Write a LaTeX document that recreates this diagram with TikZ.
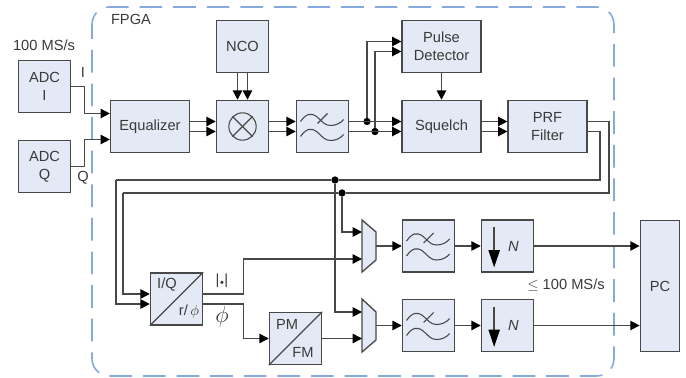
\documentclass[tikz,border=0pt]{standalone}
\usepackage{amsmath}
\usepackage{amssymb}
\usepackage{xcolor}
\usepackage{fontspec}
\setmainfont{Liberation Sans}
\usepackage{tikz}
\usetikzlibrary{arrows.meta}

\definecolor{boxblue}{RGB}{227,234,245}
\definecolor{edgegray}{RGB}{72,72,72}
\definecolor{textgray}{RGB}{58,58,58}
\definecolor{fpgablue}{RGB}{135,170,222}

\def\wo{3.75pt}

\tikzset{
    block/.style={draw=edgegray, fill=boxblue, line width=1.1pt, inner sep=0pt, align=center, minimum width=39pt, minimum height=39pt},
    wideblock/.style={block, minimum width=59pt},
    muxshape/.style={draw=edgegray, fill=boxblue, line width=1pt},
    wire/.style={draw=edgegray, line width=1.1pt},
    sig/.style={wire, -{Triangle[length=7pt,width=7pt,color=black]}},
    dot/.style={circle, fill=black, inner sep=0pt, minimum size=5.5pt},
    lbl/.style={text=textgray, inner sep=0pt},
    symline/.style={draw=edgegray, line width=0.8pt}
}

\begin{document}
\begin{tikzpicture}[x=0.75pt, y=-0.75pt, nodes={font=\fontsize{11pt}{13.5pt}\selectfont, text=textgray}]
    \useasboundingbox (0,0) rectangle (686,378);

    \draw[draw=fpgablue, line width=1.2pt, dash pattern=on 17pt off 8.2pt, dash phase=6pt, rounded corners=13pt] (92,7) rectangle (614,376);

    \node[block] (adci) at (44.5,86.5) {ADC\\I};
    \node[block] (adcq) at (44.5,166.5) {ADC\\Q};
    \node[wideblock] (eq) at (150,126.5) {Equalizer};
    \node[block] (nco) at (242.5,46.5) {NCO};
    \node[block] (mix) at (242.5,126.5) {};
    \node[block] (lpfa) at (322.5,126.5) {};
    \node[wideblock] (pd) at (441.5,46.5) {Pulse\\Detector};
    \node[wideblock] (sq) at (441.5,126.5) {Squelch};
    \node[wideblock] (prf) at (547.5,126.5) {PRF\\Filter};
    \node[block] (iq) at (176.5,299) {};
    \node[block] (pm) at (295.5,338.5) {};
    \node[block] (lpfb) at (428.5,246) {};
    \node[block] (lpfc) at (428.5,325.5) {};
    \node[block] (dna) at (507.5,246) {};
    \node[block] (dnb) at (507.5,325.5) {};
    \node[block, minimum width=29.5pt, minimum height=98.5pt] (pc) at (660,286) {PC};

    \node[circle, symline, fill=none, minimum size=20.5pt, inner sep=0pt] (mixc) at (mix.center) {};
    \draw[symline] (mixc.north west) -- (mixc.south east);
    \draw[symline] (mixc.north east) -- (mixc.south west);

    \foreach \n in {lpfa,lpfb,lpfc}{
        \begin{scope}[shift={(\n.center)}]
            \foreach \d in {0,15}{
                \draw[symline] (-22,-5+\d) .. controls (-16,-13+\d) and (-12,-14+\d) .. (-6,-10+\d) .. controls (0,-5+\d) and (2,-1+\d) .. (8,-1+\d) .. controls (13,-1+\d) and (18,-3+\d) .. (21,-7+\d);
            }
            \draw[symline] (-5,-3) -- (5,-13);
        \end{scope}
    }

    \foreach \n in {dna,dnb}{
        \draw[wire, -{Triangle[length=13pt,width=8.5pt,color=black]}] ([shift={(-10pt,14pt)}]\n.center) -- ([shift={(-10pt,-16pt)}]\n.center);
        \node[lbl] at ([xshift=4.5pt]\n.center) {\textit{N}};
    }

    \draw[symline] (iq.south west) -- (iq.north east);
    \draw[symline] (pm.south west) -- (pm.north east);
    \node[lbl] (iqa) at (167,285) {I/Q};
    \node[lbl] (iqb) at (189,312) {r/$\,\phi$};
    \node[lbl] (pma) at (287,324) {PM};
    \node[lbl] (pmb) at (303,352) {FM};

    \draw[muxshape] (362,220) -- (376,232) -- (376,260) -- (362,272) -- cycle;
    \draw[muxshape] (362,299) -- (376,312) -- (376,340) -- (362,352) -- cycle;
    \coordinate (muxaa) at (362,232);
    \coordinate (muxab) at (362,259);
    \coordinate (muxao) at (376,246);
    \coordinate (muxba) at (362,312);
    \coordinate (muxbb) at (362,338.5);
    \coordinate (muxbo) at (376,325.5);

    \node[dot] (ja) at (367,121.5) {};
    \node[dot] (jb) at (375,131.5) {};
    \node[dot] (jc) at (335,180) {};
    \node[dot] (jd) at (342,193) {};
    \coordinate (fba) at (609,193);
    \coordinate (fbb) at (600,180);
    \coordinate (fbc) at (123,193);
    \coordinate (fbd) at (116,180);

    \draw[sig] (adci.east) -- ++(13,0) |- ([yshift=9.75pt]eq.west);
    \draw[sig] (adcq.east) -- ++(13,0) |- ([yshift=-9.75pt]eq.west);
    \foreach \a/\b in {eq/mix,mix/lpfa,lpfa/sq,sq/prf}{
        \foreach \s in {\wo,-\wo}{
            \draw[sig] ([yshift=\s]\a.east) -- ([yshift=\s]\b.west);
        }
    }
    \foreach \s in {-\wo,\wo}{
        \draw[sig] ([xshift=\s]nco.south) -- ([xshift=\s]mix.north);
    }
    \draw[sig] (ja) |- ([yshift=\wo]pd.west);
    \draw[sig] (jb) |- ([yshift=-\wo]pd.west);
    \draw[sig] (pd) -- (sq);

    \draw[wire] ([yshift=\wo]prf.east) -| (fba) -- (jd) -- (fbc);
    \draw[sig] (fbc) |- ([yshift=\wo]iq.west);
    \draw[wire] ([yshift=-\wo]prf.east) -| (fbb) -- (jc) -- (fbd);
    \draw[sig] (fbd) |- ([yshift=-\wo]iq.west);

    \draw[sig] (jd) |- (muxaa);
    \draw[sig] (jc) |- (muxba);
    \draw[sig] ([yshift=\wo]iq.east) -- ++(40,0) |- (muxab);
    \draw[sig] ([yshift=-\wo]iq.east) -- ++(40,0) |- (pm.west);
    \draw[sig] (pm.east) -- (muxbb);

    \draw[sig] (muxao) -- (lpfb.west);
    \draw[sig] (muxbo) -- (lpfc.west);
    \draw[sig] (lpfb) -- (dna);
    \draw[sig] (lpfc) -- (dnb);
    \draw[sig] (dna.east) -- (dna.east -| pc.west);
    \draw[sig] (dnb.east) -- (dnb.east -| pc.west);

    \node[lbl] (rate) at (44,45) {100 MS/s};
    \node[lbl] (fpga) at (131,19) {FPGA};
    \node[lbl] (ilbl) at (83,72) {I};
    \node[lbl] (qlbl) at (83,178) {Q};
    \node[lbl] (maglbl) at (222,281) {|$\scriptscriptstyle\bullet$|};
    \node[lbl, font=\fontsize{16pt}{16pt}\selectfont] (phlbl) at (222,317) {$\phi$};
    \node[lbl] (outrate) at (566,285) {$\leq$ 100 MS/s};
\end{tikzpicture}
\end{document}
